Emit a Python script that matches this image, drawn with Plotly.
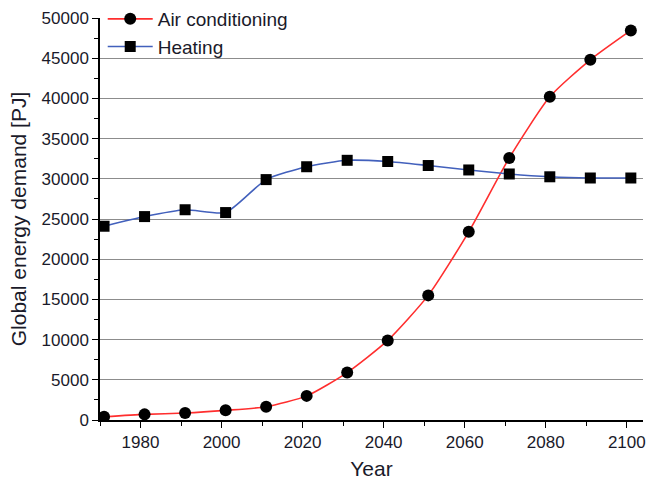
import plotly.graph_objects as go

years = [1971, 1981, 1991, 2001, 2011, 2021, 2031, 2041, 2051, 2061, 2071, 2081, 2091, 2101]
air_conditioning = [400, 700, 870, 1200, 1650, 3000, 5900, 9900, 15500, 23400, 32600, 40200, 44800, 48450]
heating = [24100, 25300, 26150, 25800, 29900, 31500, 32300, 32150, 31650, 31100, 30600, 30250, 30100, 30100]

font_family = "Liberation Sans, Arial, sans-serif"
text_color = "#1a1a2a"

fig = go.Figure()
fig.add_trace(go.Scatter(
    x=years, y=air_conditioning, name="Air conditioning",
    mode="lines+markers",
    line=dict(color="#ff2e2e", width=1.6, shape="spline", smoothing=0.6),
    marker=dict(symbol="circle", size=12, color="black"),
))
fig.add_trace(go.Scatter(
    x=years, y=heating, name="Heating",
    mode="lines+markers",
    line=dict(color="#4260bc", width=1.6, shape="spline", smoothing=0.6),
    marker=dict(symbol="square", size=11, color="black"),
))

fig.update_layout(
    width=646, height=484,
    margin=dict(l=100, r=0, t=17, b=64),
    paper_bgcolor="white", plot_bgcolor="white",
    font=dict(family=font_family, color=text_color, size=17),
    showlegend=True,
    legend=dict(
        x=0.005, y=1.045, xanchor="left", yanchor="top",
        bgcolor="rgba(255,255,255,0)", font=dict(size=19, color=text_color),
        itemwidth=45, tracegroupgap=0,
    ),
    xaxis=dict(
        range=[1970, 2104], tickmode="array",
        tickvals=[1980, 2000, 2020, 2040, 2060, 2080, 2100],
        ticklabeloverflow="allow",
        showline=True, linecolor="black", linewidth=1.5,
        ticks="outside", ticklen=6, tickcolor="black", tickwidth=1.2,
        minor=dict(tickvals=[1970, 1990, 2010, 2030, 2050, 2070, 2090],
                   ticks="outside", ticklen=4, tickcolor="black", tickwidth=1.2),
        showgrid=False, zeroline=False,
        title=dict(text="Year", font=dict(size=21), standoff=10),
        tickfont=dict(size=17),
    ),
    yaxis=dict(
        range=[0, 50000], dtick=5000, tickformat="d",
        showline=True, linecolor="black", linewidth=1.5,
        ticks="outside", ticklen=6, tickcolor="black", tickwidth=1.2,
        minor=dict(dtick=2500, ticks="outside", ticklen=4, tickcolor="black",
                   tickwidth=1.2, showgrid=False),
        showgrid=True, gridcolor="#8c8c8c", gridwidth=1.3, zeroline=False,
        title=dict(text="Global energy demand [PJ]", font=dict(size=21), standoff=9),
        tickfont=dict(size=17),
    ),
)

fig.write_html("out.html")
